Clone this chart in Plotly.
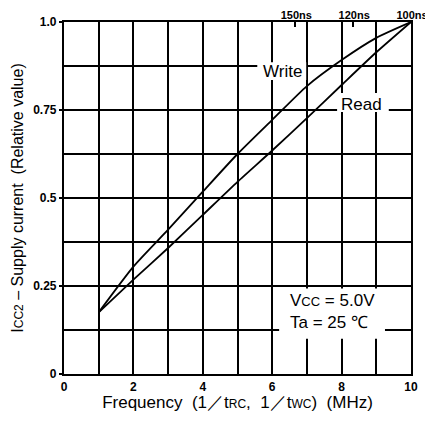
import plotly.graph_objects as go

# Data
freq = [1, 2, 3, 4, 5, 6, 7, 8, 9, 10]
write_icc = [0.175, 0.305, 0.410, 0.518, 0.625, 0.722, 0.818, 0.892, 0.955, 1.0]
read_icc = [0.175, 0.268, 0.358, 0.452, 0.546, 0.635, 0.727, 0.821, 0.914, 1.0]

x_tickvals = [0, 2, 4, 6, 8, 10]
y_tickvals = [0, 0.25, 0.5, 0.75, 1.0]
y_ticktext = ["0", "0.25", "0.5", "0.75", "1.0"]
cycle_ns = [150, 120, 100]
cycle_labels = ["150ns", "120ns", "100ns"]
cycle_freq = [1000.0 / c for c in cycle_ns]

FONT = "Liberation Sans, Arial, sans-serif"
line = dict(color="black", width=1.8)

fig = go.Figure()
fig.add_trace(go.Scatter(x=freq, y=write_icc, mode="lines", line=line,
                         line_shape="spline", line_smoothing=0.6,
                         showlegend=False, hoverinfo="skip"))
fig.add_trace(go.Scatter(x=freq, y=read_icc, mode="lines", line=line,
                         line_shape="spline", line_smoothing=0.6,
                         showlegend=False, hoverinfo="skip"))
# invisible trace for top axis
fig.add_trace(go.Scatter(x=cycle_freq, y=[None] * len(cycle_freq), xaxis="x2",
                         mode="markers", showlegend=False, hoverinfo="skip"))

# white masks over grid behind labels
masks = [
    (5.57, 6.98, 0.835, 0.886),
    (7.87, 9.36, 0.744, 0.798),
    (6.2, 9.25, 0.10, 0.243),
]
for x0, x1, y0, y1 in masks:
    fig.add_shape(type="rect", x0=x0, x1=x1, y0=y0, y1=y1, xref="x", yref="y",
                  fillcolor="white", line=dict(width=0), layer="between")

labels = [
    ("Write", 6.31, 0.858),
    ("Read", 8.57, 0.767),
    ("V<span style='font-size:13px'>CC</span> = 5.0V", 7.73, 0.21),
    ("Ta = 25 ℃", 7.63, 0.145),
]
for t, x, y in labels:
    fig.add_annotation(x=x, y=y, text=t, showarrow=False,
                       font=dict(family=FONT, size=17, color="black"))

# page body has an 8px default margin: figure is sized/offset to compensate
fig.update_layout(
    width=425, height=414,
    margin=dict(l=56, r=22, t=14, b=48),
    paper_bgcolor="white", plot_bgcolor="white",
    font=dict(family=FONT, color="black"),
    xaxis=dict(
        range=[0, 10], tickvals=x_tickvals, ticks="", automargin=False,
        showgrid=True, gridcolor="black", gridwidth=1.6,
        minor=dict(dtick=1, showgrid=True, gridcolor="black", gridwidth=1.6),
        showline=True, linecolor="black", linewidth=2.2, mirror=True,
        zeroline=False,
        tickfont=dict(family=FONT, size=12, color="black", weight="bold"),
        title=dict(text="Frequency  (1／t<span style='font-size:12px'>RC</span>,  1／t<span style='font-size:12px'>WC</span>)  (MHz)",
                   font=dict(family=FONT, size=17, color="black"), standoff=3),
    ),
    xaxis2=dict(
        range=[0, 10], overlaying="x", side="top", anchor="y", automargin=False,
        tickvals=cycle_freq, ticktext=cycle_labels, ticks="inside",
        ticklen=5, tickwidth=1.5, tickcolor="black", showgrid=False,
        zeroline=False, showline=False, ticklabelshift=1,
        tickfont=dict(family=FONT, size=11, color="black", weight="bold"),
    ),
    yaxis=dict(
        range=[0, 1.0], tickvals=y_tickvals, ticktext=y_ticktext, automargin=False,
        ticks="outside", ticklen=3, tickwidth=1.5, tickcolor="black",
        showgrid=True, gridcolor="black", gridwidth=1.6,
        minor=dict(dtick=0.125, showgrid=True, gridcolor="black", gridwidth=1.6),
        showline=True, linecolor="black", linewidth=2.2, mirror=True,
        zeroline=False,
        tickfont=dict(family=FONT, size=12, color="black", weight="bold"),
        title=dict(text="I<span style='font-size:12px'>CC2</span> – Supply current  (Relative value)",
                   font=dict(family=FONT, size=16, color="black"), standoff=6),
    ),
)

fig.write_html("out.html")
